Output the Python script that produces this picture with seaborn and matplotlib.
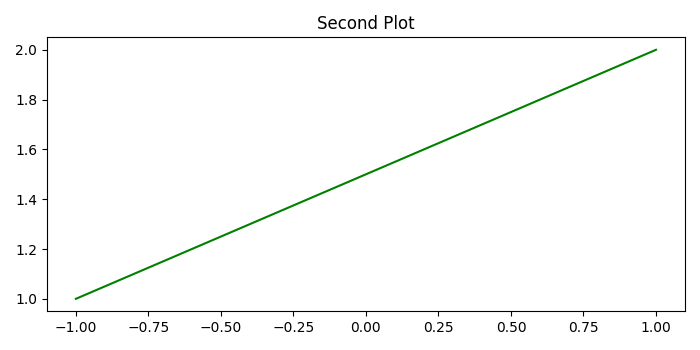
import matplotlib
matplotlib.use("Agg")
import matplotlib.pyplot as plt
import seaborn as sns

x_values = [-1.0, 1.0]
y_values = [1.0, 2.0]
title = "Second Plot"

fig, ax = plt.subplots(figsize=(7, 3.5), dpi=100)
sns.lineplot(x=x_values, y=y_values, color="green", ax=ax)
ax.set_title(title)
ax.set_xlabel("")
ax.set_ylabel("")
fig.tight_layout()
fig.savefig("out.png", dpi=100)
